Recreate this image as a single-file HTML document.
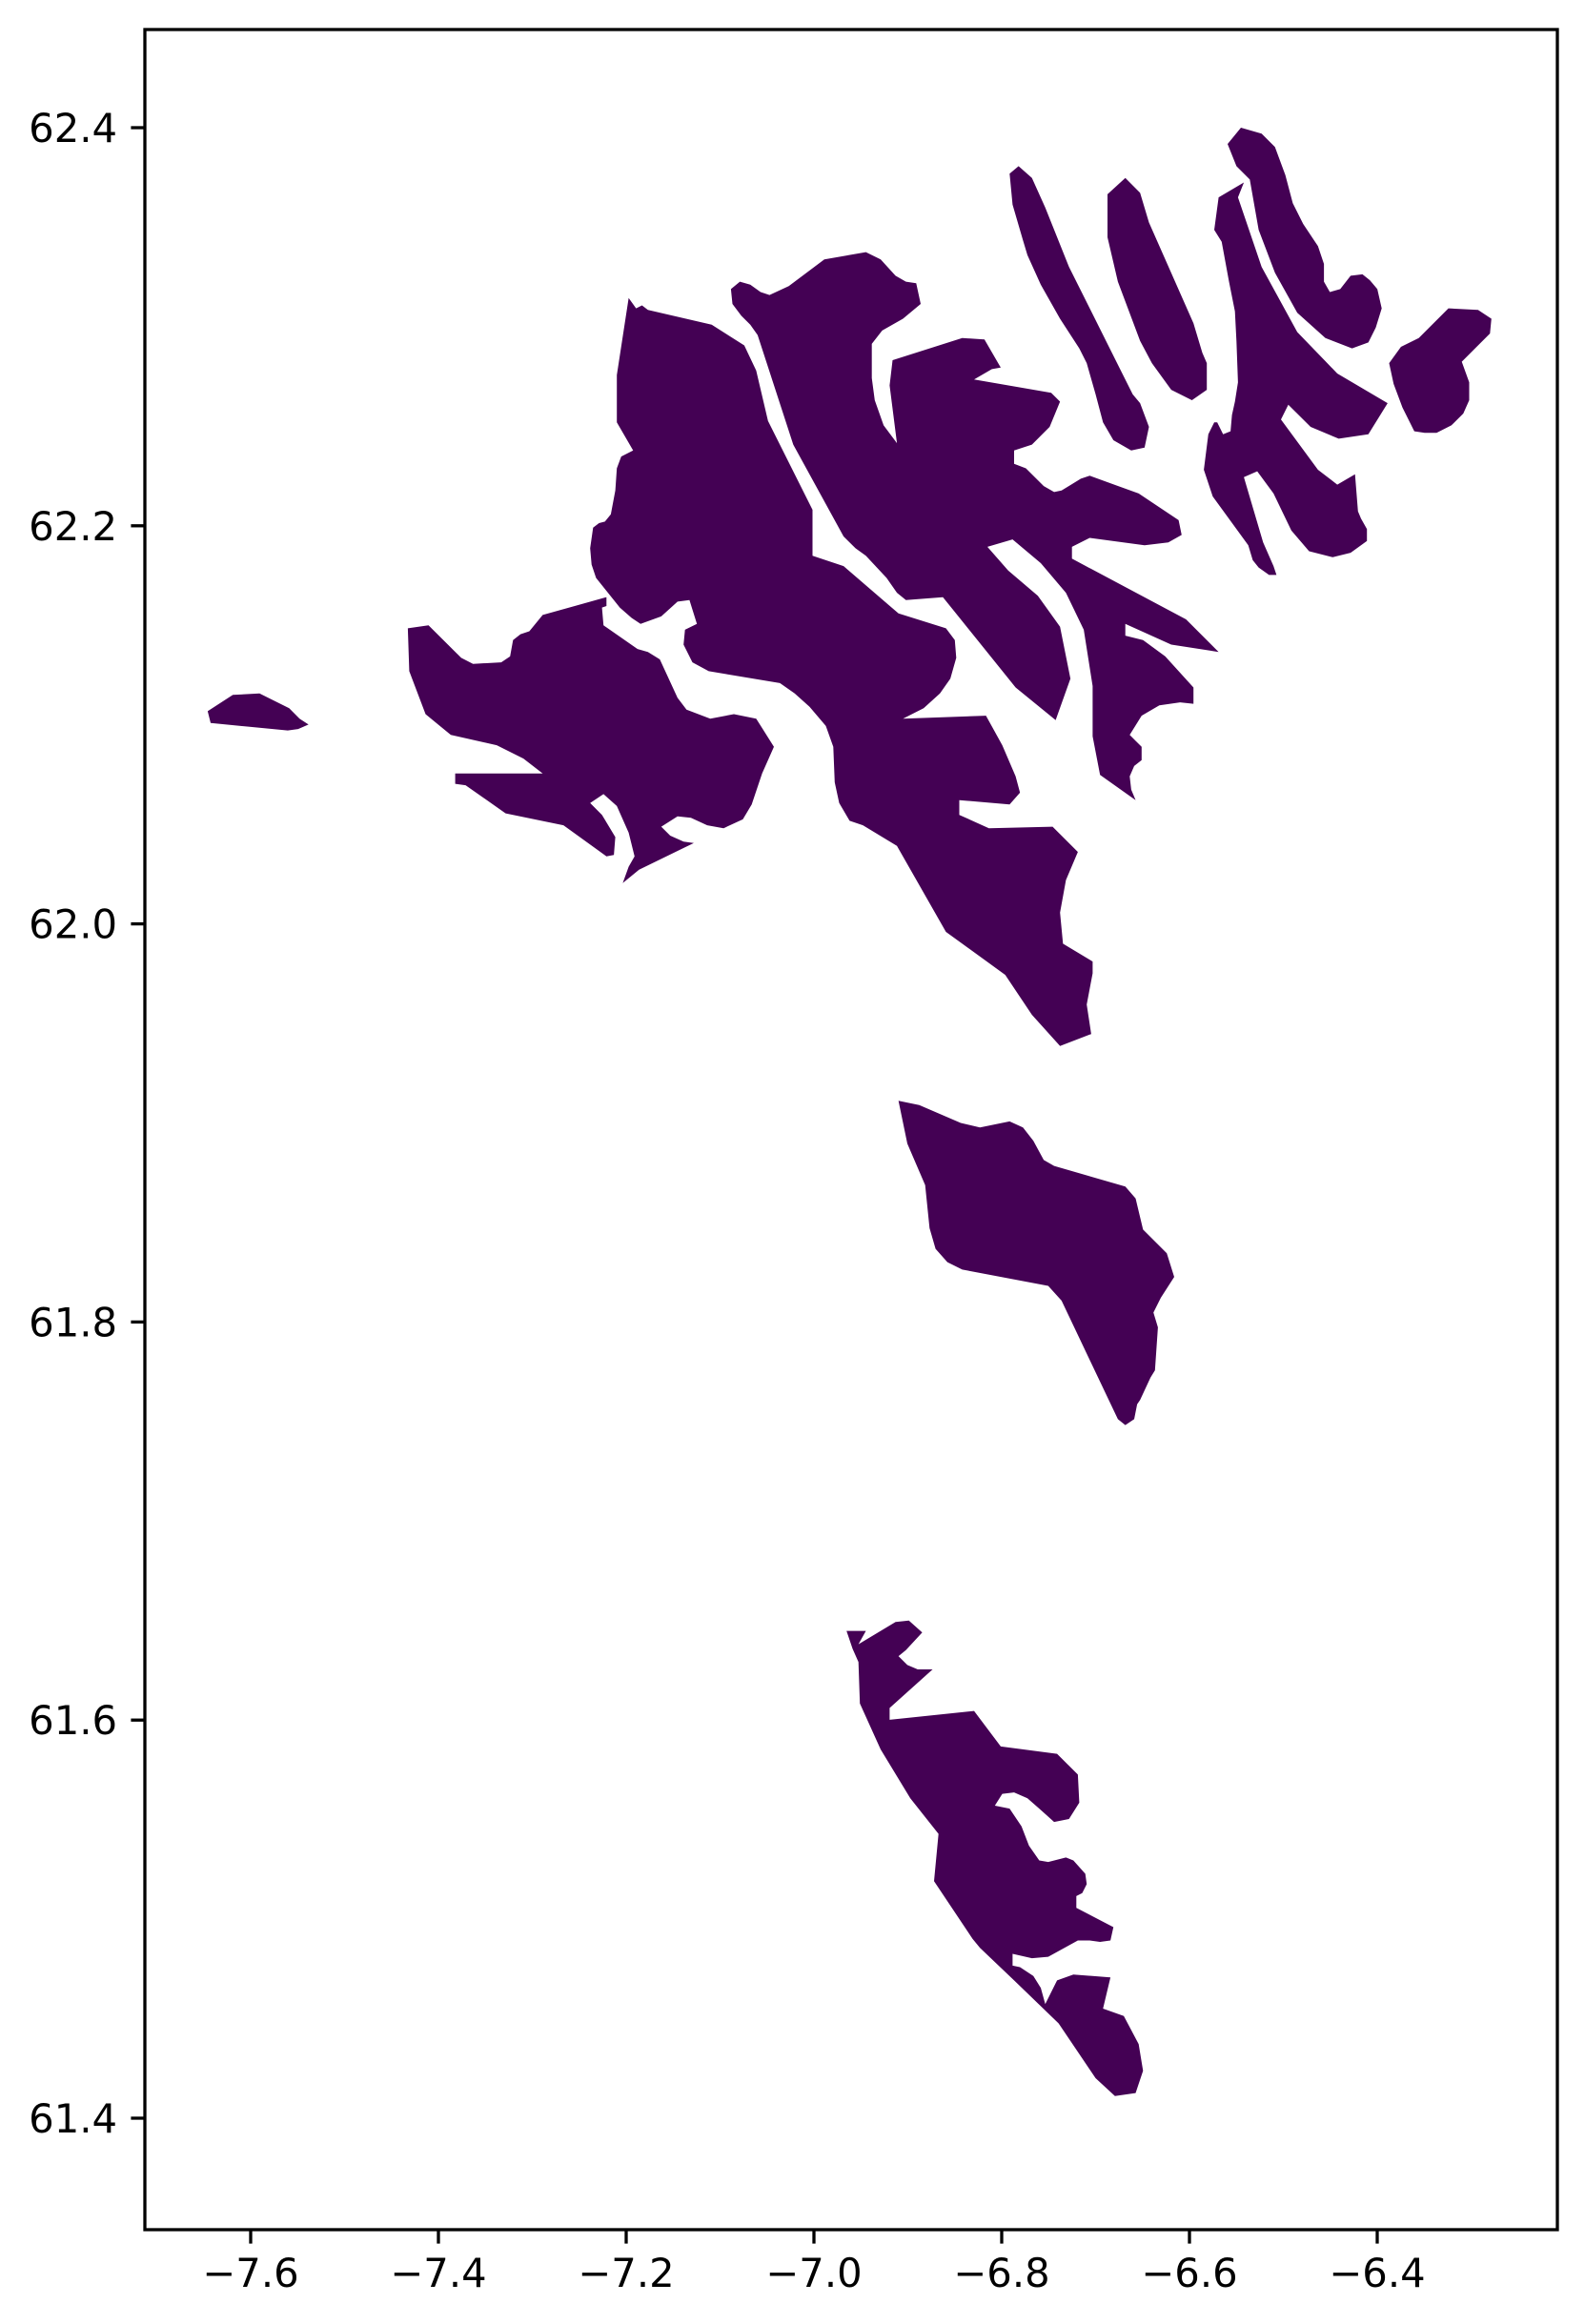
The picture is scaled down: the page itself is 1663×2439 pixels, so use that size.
<!DOCTYPE html>
<html><head><meta charset="utf-8">
<style>
html,body{margin:0;padding:0;background:#fff;}
svg{display:block;}
text{font-family:"DejaVu Sans","Liberation Sans",sans-serif;font-size:41.7px;fill:#000;}
</style></head>
<body>
<svg id="chart" width="1663" height="2439" viewBox="0 0 1663 2439" xmlns="http://www.w3.org/2000/svg">
<rect width="1663" height="2439" fill="#fff"/>
<g id="islands"></g>
<g id="axes"></g>
</svg>
<script>
// Axis tick values
const xTicks = [-7.6, -7.4, -7.2, -7.0, -6.8, -6.6, -6.4];
const yTicks = [61.4, 61.6, 61.8, 62.0, 62.2, 62.4];
const xTickLabels = ["−7.6", "−7.4", "−7.2", "−7.0", "−6.8", "−6.6", "−6.4"];
const yTickLabels = ["61.4", "61.6", "61.8", "62.0", "62.2", "62.4"];
// Island outlines: traced survey units (u -> lon, v -> lat via conversion below)
const mykines = [[141,480],[158,469],[176,468],[196,478],[203,485],[209,489],[202,492],[195,493],[143,488]];
const vagar = [[276,424],[290,422],[312,444],[320,448],[339,447],[345,443],[347,432],[352,428],[358,426],[367,415],[410,403],[410,409],[407,410],[408,422],[431,438],[438,440],[446,445],[458,471],[464,479],[480,485],[496,482],[511,485],[523,504],[515,522],[508,543],[502,553],[489,559],[478,557],[467,552],[458,551],[447,558],[453,564],[462,568],[469,569],[432,587],[421,596],[425,585],[429,578],[425,562],[417,544],[408,536],[399,542],[407,550],[416,565],[415,577],[410,578],[381,557],[342,549],[315,530],[308,529],[308,522],[367,522],[354,512],[336,503],[305,496],[288,482],[277,453]];
const streymoy = [[425,201],[430,208],[434,206],[438,209],[481,219],[503,233],[511,250],[519,284],[549,344],[549,375],[570,382],[607,414],[639,424],[645,432],[646,444],[642,458],[635,468],[624,478],[610,485],[666,483],[677,503],[686,524],[689,535],[682,543],[648,540],[648,550],[668,559],[711,558],[728,575],[720,594],[716,616],[718,637],[738,649],[738,657],[734,678],[737,698],[716,706],[697,685],[679,658],[639,629],[606,571],[583,557],[574,554],[567,542],[564,528],[563,504],[558,490],[547,477],[537,468],[527,461],[479,453],[468,447],[462,435],[463,425],[471,421],[466,405],[458,406],[447,416],[433,421],[427,417],[419,410],[403,390],[400,381],[399,370],[401,356],[405,353],[409,352],[413,347],[416,331],[417,316],[420,308],[428,304],[417,285],[417,253]];
const eysturoy = [[494,195],[500,190],[507,192],[514,197],[520,199],[533,193],[557,175],[585,170],[595,175],[605,186],[612,190],[619,191],[622,205],[610,215],[596,223],[589,232],[589,255],[591,270],[597,287],[606,299],[601,260],[603,243],[650,228],[665,229],[676,248],[670,249],[658,256],[710,265],[716,271],[709,288],[697,300],[685,304],[685,313],[693,316],[705,328],[712,332],[717,331],[730,323],[736,321],[769,333],[796,351],[798,361],[789,366],[773,368],[736,363],[724,369],[724,377],[801,418],[823,440],[791,435],[760,421],[760,429],[772,432],[787,443],[806,464],[806,475],[797,474],[783,476],[771,483],[763,496],[767,500],[771,504],[771,513],[766,517],[763,524],[764,533],[767,540],[743,523],[738,497],[738,463],[732,425],[720,400],[703,380],[684,364],[667,369],[681,385],[701,402],[716,423],[723,458],[713,486],[686,464],[637,403],[612,405],[606,400],[599,390],[585,375],[578,370],[570,362],[536,300],[512,226],[507,219],[501,213],[495,205]];
const kalsoy = [[682,117],[688,112],[697,120],[706,140],[722,180],[765,266],[770,272],[776,288],[773,302],[764,304],[752,297],[745,285],[740,266],[734,245],[729,235],[716,215],[703,192],[694,172],[691,162],[684,138]];
const kunoy = [[748,131],[760,120],[770,130],[776,150],[806,218],[812,238],[815,245],[815,263],[805,270],[791,263],[778,245],[770,230],[755,190],[748,160]];
const vidoy = [[829,97],[838,86],[852,90],[861,99],[868,118],[873,137],[880,151],[890,166],[894,178],[894,190],[898,197],[905,195],[912,186],[920,185],[925,189],[930,195],[933,208],[929,221],[924,231],[913,235],[895,228],[876,211],[861,184],[850,155],[844,121],[835,112]];
const bordoy = [[823,133],[840,123],[836,133],[852,180],[876,224],[903,252],[937,272],[924,293],[904,296],[885,288],[870,273],[865,283],[890,317],[903,327],[915,320],[917,345],[919,350],[923,357],[923,365],[912,373],[900,376],[884,372],[872,358],[860,333],[849,318],[840,322],[853,366],[860,382],[862,388],[857,388],[850,383],[846,378],[843,368],[819,335],[813,317],[816,293],[820,285],[822,285],[826,293],[831,291],[832,280],[834,271],[836,258],[835,230],[834,210],[830,190],[825,163],[820,155]];
const fugloy = [[938,245],[946,234],[958,228],[978,208],[998,209],[1007,215],[1006,225],[987,244],[992,258],[992,270],[988,279],[980,287],[970,292],[962,292],[955,291],[947,275],[941,259]];
const sandoy = [[607,743],[621,746],[649,758],[662,761],[682,757],[691,761],[698,770],[705,783],[712,787],[760,801],[767,809],[772,830],[788,846],[793,862],[784,876],[779,886],[782,896],[780,925],[777,930],[770,945],[768,948],[766,958],[760,962],[755,958],[717,878],[708,868],[650,857],[640,852],[632,843],[628,829],[625,800],[613,772]];
const suduroy = [[580,1110],[605,1095],[614,1094],[623,1102],[612,1114],[607,1118],[613,1124],[620,1127],[630,1127],[601,1153],[601,1161],[658,1155],[676,1179],[714,1184],[728,1198],[729,1217],[722,1228],[712,1230],[702,1221],[694,1214],[685,1210],[677,1211],[672,1219],[682,1221],[690,1233],[695,1246],[702,1256],[708,1257],[720,1254],[725,1256],[733,1265],[734,1272],[731,1278],[727,1280],[727,1288],[752,1301],[750,1310],[743,1311],[736,1310],[728,1310],[708,1321],[697,1322],[684,1319],[684,1327],[689,1328],[698,1334],[703,1342],[706,1353],[714,1337],[725,1333],[750,1335],[745,1356],[759,1361],[769,1380],[772,1398],[767,1413],[753,1415],[740,1403],[715,1366],[685,1337],[662,1315],[657,1309],[631,1270],[634,1238],[615,1214],[595,1181],[581,1150],[580,1122],[576,1113],[572,1101],[585,1101]];
const islandNames = ["mykines","vagar","streymoy","eysturoy","kalsoy","kunoy","vidoy","bordoy","fugloy","sandoy","suduroy"];
const islandData = [mykines,vagar,streymoy,eysturoy,kalsoy,kunoy,vidoy,bordoy,fugloy,sandoy,suduroy];

// conversion survey units -> geographic
function lonOf(u){ return -7.6 + (u-170)/633.3; }
function latOf(v){ return 61.4 + (1430-v)/1344; }
// axis functions
const L=152, R=1634, T=31, B=2340;
function x(lon){ return 263 + (lon+7.6)*985; }
function y(lat){ return 2223 - (lat-61.4)*2089; }

const NS="http://www.w3.org/2000/svg";
const gI=document.getElementById('islands');
islandData.forEach((pts,i)=>{
  const p=document.createElementNS(NS,'polygon');
  p.setAttribute('points', pts.map(q=>x(lonOf(q[0])).toFixed(1)+','+y(latOf(q[1])).toFixed(1)).join(' '));
  p.setAttribute('fill','#440154');
  
  
  gI.appendChild(p);
});

const gA=document.getElementById('axes');
const frame=document.createElementNS(NS,'rect');
frame.setAttribute('x',L);frame.setAttribute('y',T);
frame.setAttribute('width',R-L);frame.setAttribute('height',B-T);
frame.setAttribute('fill','none');frame.setAttribute('stroke','#000');frame.setAttribute('stroke-width','3.3');


gA.appendChild(frame);

xTicks.forEach((v,i)=>{
  const px=x(v);
  const t=document.createElementNS(NS,'line');
  t.setAttribute('x1',px);t.setAttribute('x2',px);t.setAttribute('y1',B);t.setAttribute('y2',B+14.6);
  t.setAttribute('stroke','#000');t.setAttribute('stroke-width','3.3');
  
  
  gA.appendChild(t);
  const s=document.createElementNS(NS,'text');
  s.setAttribute('x',px);s.setAttribute('y',B+29+31);s.setAttribute('text-anchor','middle');
  s.textContent=xTickLabels[i];
  
  
  gA.appendChild(s);
});
yTicks.forEach((v,i)=>{
  const py=y(v);
  const t=document.createElementNS(NS,'line');
  t.setAttribute('x1',L-14.6);t.setAttribute('x2',L);t.setAttribute('y1',py);t.setAttribute('y2',py);
  t.setAttribute('stroke','#000');t.setAttribute('stroke-width','3.3');
  
  
  gA.appendChild(t);
  const s=document.createElementNS(NS,'text');
  s.setAttribute('x',L-29);s.setAttribute('y',py+15);s.setAttribute('text-anchor','end');
  s.textContent=yTickLabels[i];
  
  
  gA.appendChild(s);
});
</script>
</body></html>
